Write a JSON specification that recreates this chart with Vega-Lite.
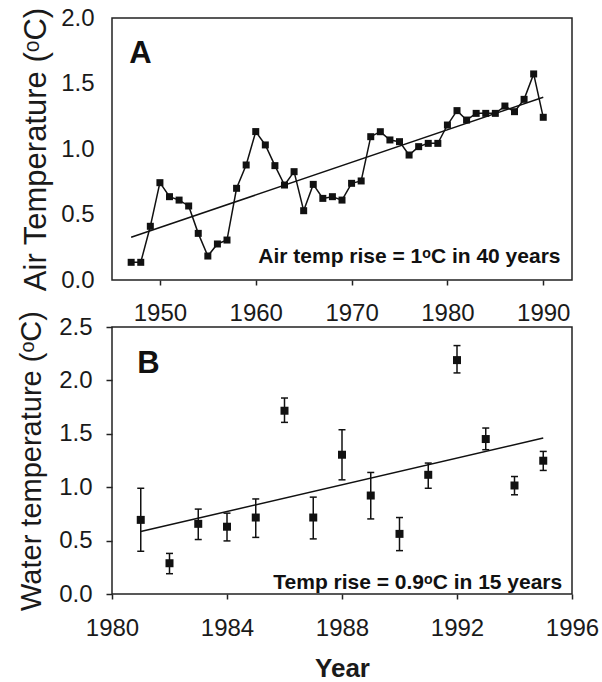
{
  "$schema": "https://vega.github.io/schema/vega-lite/v6.json",
  "padding": {"left": 16, "top": 5, "right": 0, "bottom": 0},
  "background": "white",
  "spacing": 47,
  "bounds": "flush",
  "config": {
    "view": {"stroke": "#222", "strokeWidth": 1.5},
    "font": "Liberation Sans",
    "axis": {
      "domain": false,
      "grid": false,
      "labelFont": "Liberation Sans",
      "labelFontSize": 24,
      "labelColor": "#1a1a1a",
      "titleFont": "Liberation Sans",
      "titleColor": "#1a1a1a",
      "titleFontWeight": "normal",
      "tickColor": "#222",
      "tickWidth": 1.5,
      "labelFlush": false,
      "labelOverlap": false
    }
  },
  "datasets": {
    "air": [
      {"year": 1947, "temp": 0.135}, {"year": 1948, "temp": 0.135}, {"year": 1949, "temp": 0.41},
      {"year": 1950, "temp": 0.743}, {"year": 1951, "temp": 0.636}, {"year": 1952, "temp": 0.61},
      {"year": 1953, "temp": 0.565}, {"year": 1954, "temp": 0.356}, {"year": 1955, "temp": 0.183},
      {"year": 1956, "temp": 0.275}, {"year": 1957, "temp": 0.305}, {"year": 1958, "temp": 0.7},
      {"year": 1959, "temp": 0.878}, {"year": 1960, "temp": 1.133}, {"year": 1961, "temp": 1.031},
      {"year": 1962, "temp": 0.873}, {"year": 1963, "temp": 0.725}, {"year": 1964, "temp": 0.827},
      {"year": 1965, "temp": 0.529}, {"year": 1966, "temp": 0.73}, {"year": 1967, "temp": 0.623},
      {"year": 1968, "temp": 0.636}, {"year": 1969, "temp": 0.61}, {"year": 1970, "temp": 0.738},
      {"year": 1971, "temp": 0.756}, {"year": 1972, "temp": 1.094}, {"year": 1973, "temp": 1.132},
      {"year": 1974, "temp": 1.069}, {"year": 1975, "temp": 1.056}, {"year": 1976, "temp": 0.954},
      {"year": 1977, "temp": 1.018}, {"year": 1978, "temp": 1.043}, {"year": 1979, "temp": 1.043},
      {"year": 1980, "temp": 1.183}, {"year": 1981, "temp": 1.293}, {"year": 1982, "temp": 1.221},
      {"year": 1983, "temp": 1.272}, {"year": 1984, "temp": 1.272}, {"year": 1985, "temp": 1.272},
      {"year": 1986, "temp": 1.328}, {"year": 1987, "temp": 1.285}, {"year": 1988, "temp": 1.379},
      {"year": 1989, "temp": 1.573}, {"year": 1990, "temp": 1.242}
    ],
    "airTrend": [{"year": 1947, "temp": 0.326}, {"year": 1990, "temp": 1.395}],
    "water": [
      {"year": 1981, "temp": 0.694, "lo": 0.40, "hi": 0.99},
      {"year": 1982, "temp": 0.288, "lo": 0.19, "hi": 0.38},
      {"year": 1983, "temp": 0.657, "lo": 0.51, "hi": 0.795},
      {"year": 1984, "temp": 0.63, "lo": 0.497, "hi": 0.757},
      {"year": 1985, "temp": 0.716, "lo": 0.53, "hi": 0.89},
      {"year": 1986, "temp": 1.716, "lo": 1.607, "hi": 1.835},
      {"year": 1987, "temp": 0.716, "lo": 0.516, "hi": 0.907},
      {"year": 1988, "temp": 1.304, "lo": 1.069, "hi": 1.538},
      {"year": 1989, "temp": 0.922, "lo": 0.703, "hi": 1.138},
      {"year": 1990, "temp": 0.563, "lo": 0.406, "hi": 0.716},
      {"year": 1991, "temp": 1.116, "lo": 0.99, "hi": 1.226},
      {"year": 1992, "temp": 2.19, "lo": 2.07, "hi": 2.326},
      {"year": 1993, "temp": 1.451, "lo": 1.351, "hi": 1.554},
      {"year": 1994, "temp": 1.016, "lo": 0.929, "hi": 1.10},
      {"year": 1995, "temp": 1.248, "lo": 1.157, "hi": 1.335}
    ],
    "waterTrend": [{"year": 1981, "temp": 0.585}, {"year": 1995, "temp": 1.46}]
  },
  "vconcat": [
    {
      "width": 460,
      "height": 262,
      "layer": [
        {
          "data": {"name": "air"},
          "mark": {"type": "line", "color": "#111", "strokeWidth": 1.5},
          "encoding": {
            "x": {
              "field": "year", "type": "quantitative",
              "scale": {"domain": [1945, 1993], "nice": false, "zero": false},
              "axis": {"values": [1950, 1960, 1970, 1980, 1990], "format": "d", "title": null, "tickSize": 5, "labelPadding": 16}
            },
            "y": {
              "field": "temp", "type": "quantitative",
              "scale": {"domain": [0, 2], "nice": false},
              "axis": {"values": [0, 0.5, 1, 1.5, 2], "format": ".1f", "title": "Air Temperature (ᵒC)", "titleFontSize": 31, "tickSize": 0, "labelPadding": 18, "titlePadding": 8}
            }
          }
        },
        {
          "data": {"name": "air"},
          "mark": {"type": "point", "shape": "square", "filled": true, "size": 49, "color": "#111", "opacity": 1},
          "encoding": {"x": {"field": "year", "type": "quantitative"}, "y": {"field": "temp", "type": "quantitative"}}
        },
        {
          "data": {"name": "airTrend"},
          "mark": {"type": "line", "color": "#111", "strokeWidth": 1.5},
          "encoding": {"x": {"field": "year", "type": "quantitative"}, "y": {"field": "temp", "type": "quantitative"}}
        },
        {
          "data": {"values": [{"label": "A"}]},
          "mark": {"type": "text", "font": "Liberation Sans", "fontSize": 31, "fontWeight": "bold", "align": "left", "baseline": "alphabetic", "color": "#111"},
          "encoding": {"x": {"datum": 1946.8, "type": "quantitative"}, "y": {"datum": 1.655, "type": "quantitative"}, "text": {"field": "label"}}
        },
        {
          "data": {"values": [{"label": "Air temp rise = 1ᵒC in 40 years"}]},
          "mark": {"type": "text", "font": "Liberation Sans", "fontSize": 21, "fontWeight": "bold", "align": "right", "baseline": "alphabetic", "color": "#111"},
          "encoding": {"x": {"datum": 1991.8, "type": "quantitative"}, "y": {"datum": 0.13, "type": "quantitative"}, "text": {"field": "label"}}
        }
      ]
    },
    {
      "width": 460,
      "height": 267,
      "layer": [
        {
          "data": {"name": "water"},
          "mark": {"type": "rule", "color": "#111", "strokeWidth": 1.5},
          "encoding": {
            "x": {
              "field": "year", "type": "quantitative",
              "scale": {"domain": [1980, 1996], "nice": false, "zero": false},
              "axis": {"values": [1980, 1984, 1988, 1992, 1996], "format": "d", "title": "Year", "titleFontSize": 26, "titleFontWeight": "bold", "titlePadding": 15, "tickSize": 5, "labelPadding": 17}
            },
            "y": {
              "field": "lo", "type": "quantitative",
              "scale": {"domain": [0, 2.5], "nice": false},
              "axis": {"values": [0, 0.5, 1, 1.5, 2, 2.5], "format": ".1f", "title": "Water temperature (ᵒC)", "titleFontSize": 29, "tickSize": 6, "labelPadding": 14, "titlePadding": 12}
            },
            "y2": {"field": "hi"}
          }
        },
        {
          "data": {"name": "water"},
          "mark": {"type": "tick", "orient": "horizontal", "size": 7, "thickness": 1.5, "color": "#111", "opacity": 1},
          "encoding": {"x": {"field": "year", "type": "quantitative"}, "y": {"field": "lo", "type": "quantitative"}}
        },
        {
          "data": {"name": "water"},
          "mark": {"type": "tick", "orient": "horizontal", "size": 7, "thickness": 1.5, "color": "#111", "opacity": 1},
          "encoding": {"x": {"field": "year", "type": "quantitative"}, "y": {"field": "hi", "type": "quantitative"}}
        },
        {
          "data": {"name": "water"},
          "mark": {"type": "point", "shape": "square", "filled": true, "size": 64, "color": "#111", "opacity": 1},
          "encoding": {"x": {"field": "year", "type": "quantitative"}, "y": {"field": "temp", "type": "quantitative"}}
        },
        {
          "data": {"name": "waterTrend"},
          "mark": {"type": "line", "color": "#111", "strokeWidth": 1.5},
          "encoding": {"x": {"field": "year", "type": "quantitative"}, "y": {"field": "temp", "type": "quantitative"}}
        },
        {
          "data": {"values": [{"label": "B"}]},
          "mark": {"type": "text", "font": "Liberation Sans", "fontSize": 31, "fontWeight": "bold", "align": "left", "baseline": "alphabetic", "color": "#111"},
          "encoding": {"x": {"datum": 1980.88, "type": "quantitative"}, "y": {"datum": 2.067, "type": "quantitative"}, "text": {"field": "label"}}
        },
        {
          "data": {"values": [{"label": "Temp rise = 0.9ᵒC in 15 years"}]},
          "mark": {"type": "text", "font": "Liberation Sans", "fontSize": 21, "fontWeight": "bold", "align": "right", "baseline": "alphabetic", "color": "#111"},
          "encoding": {"x": {"datum": 1995.66, "type": "quantitative"}, "y": {"datum": 0.05, "type": "quantitative"}, "text": {"field": "label"}}
        }
      ]
    }
  ]
}
